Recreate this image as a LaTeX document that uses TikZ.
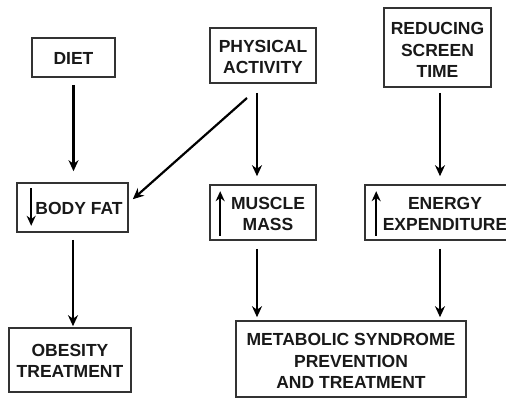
\documentclass[tikz,border=0pt]{standalone}
\usepackage{fontspec}
\setmainfont{Liberation Sans}
\usetikzlibrary{arrows.meta}
\tikzset{
  box/.style={draw=black!80, line width=1.6pt, rectangle, inner sep=0pt},
  lbl/.style={font=\bfseries\fontsize{17.5}{21.5}\selectfont, align=center, inner sep=0pt, text=black!90},
  conn/.style={line width=2.2pt, -{Stealth[length=11pt,width=10pt]}},
  inarr/.style={line width=1.8pt, -{Stealth[length=10pt,width=9pt]}}
}
\begin{document}
\begin{tikzpicture}[x=1pt,y=-1pt]
\useasboundingbox (0,0) rectangle (506,398);
\clip (0,0) rectangle (506,398);
\fill[white] (0,0) rectangle (506,398);
% boxes
\node[box, minimum width=83pt, minimum height=39pt] (diet) at (73.5,57.5) {};
\node[lbl] (dietT) at (73.5,58) {DIET};
\node[box, minimum width=106pt, minimum height=55pt] (pa) at (263,55.5) {};
\node[lbl] (paT) at (263,57) {PHYSICAL\\ACTIVITY};
\node[box, minimum width=107pt, minimum height=79pt] (rst) at (437.5,47.5) {};
\node[lbl] (rstT) at (437.5,50) {REDUCING\\SCREEN\\TIME};
\node[box, minimum width=111pt, minimum height=49pt] (bf) at (72.5,207.5) {};
\node[lbl] (bfT) at (79,208) {BODY FAT};
\node[box, minimum width=106pt, minimum height=55pt] (mm) at (263,212.5) {};
\node[lbl] (mmT) at (268,214) {MUSCLE\\MASS};
\node[box, minimum width=160pt, minimum height=55pt] (ee) at (445,212.5) {};
\node[lbl] (eeT) at (445,214) {ENERGY\\EXPENDITURE};
\node[box, minimum width=122pt, minimum height=64pt] (ob) at (70,360) {};
\node[lbl] (obT) at (70,361) {OBESITY\\TREATMENT};
\node[box, minimum width=230pt, minimum height=76pt] (ms) at (351,359) {};
\node[lbl] (msT) at (351,361) {METABOLIC SYNDROME\\PREVENTION\\AND TREATMENT};
% inner arrows
\draw[inarr] ([xshift=15pt,yshift=-6pt]bf.north west) -- ([xshift=15pt,yshift=7pt]bf.south west);
\draw[inarr] ([xshift=11pt,yshift=5pt]mm.south west) -- ([xshift=11pt,yshift=-7pt]mm.north west);
\draw[inarr] ([xshift=12pt,yshift=5pt]ee.south west) -- ([xshift=12pt,yshift=-7pt]ee.north west);
% connectors
\draw[conn, shorten <=7pt, shorten >=11pt] (diet.south) -- (diet.south |- bf.north);
\draw[conn, shorten <=9pt, shorten >=8pt] ([xshift=-6pt]pa.south) -- ([xshift=-6pt]mm.north);
\draw[conn, shorten <=5pt, shorten >=8pt] ([xshift=2.5pt]rst.south) -- ([xshift=2.5pt]rst.south |- ee.north);
\draw[conn, shorten <=7pt, shorten >=1pt] ([xshift=0.5pt]bf.south) -- ([xshift=0.5pt]bf.south |- ob.north);
\draw[conn, shorten <=8pt, shorten >=3pt] ([xshift=-6pt]mm.south) -- ([xshift=-6pt]mm.south |- ms.north);
\draw[conn, shorten <=8pt, shorten >=3pt] ([xshift=2.5pt]rst.south |- ee.south) -- ([xshift=2.5pt]rst.south |- ms.north);
\coordinate (diagS) at (247,98);
\draw[conn] (diagS) -- ([xshift=4pt,yshift=-17pt]bf.north east);
\end{tikzpicture}
\end{document}
